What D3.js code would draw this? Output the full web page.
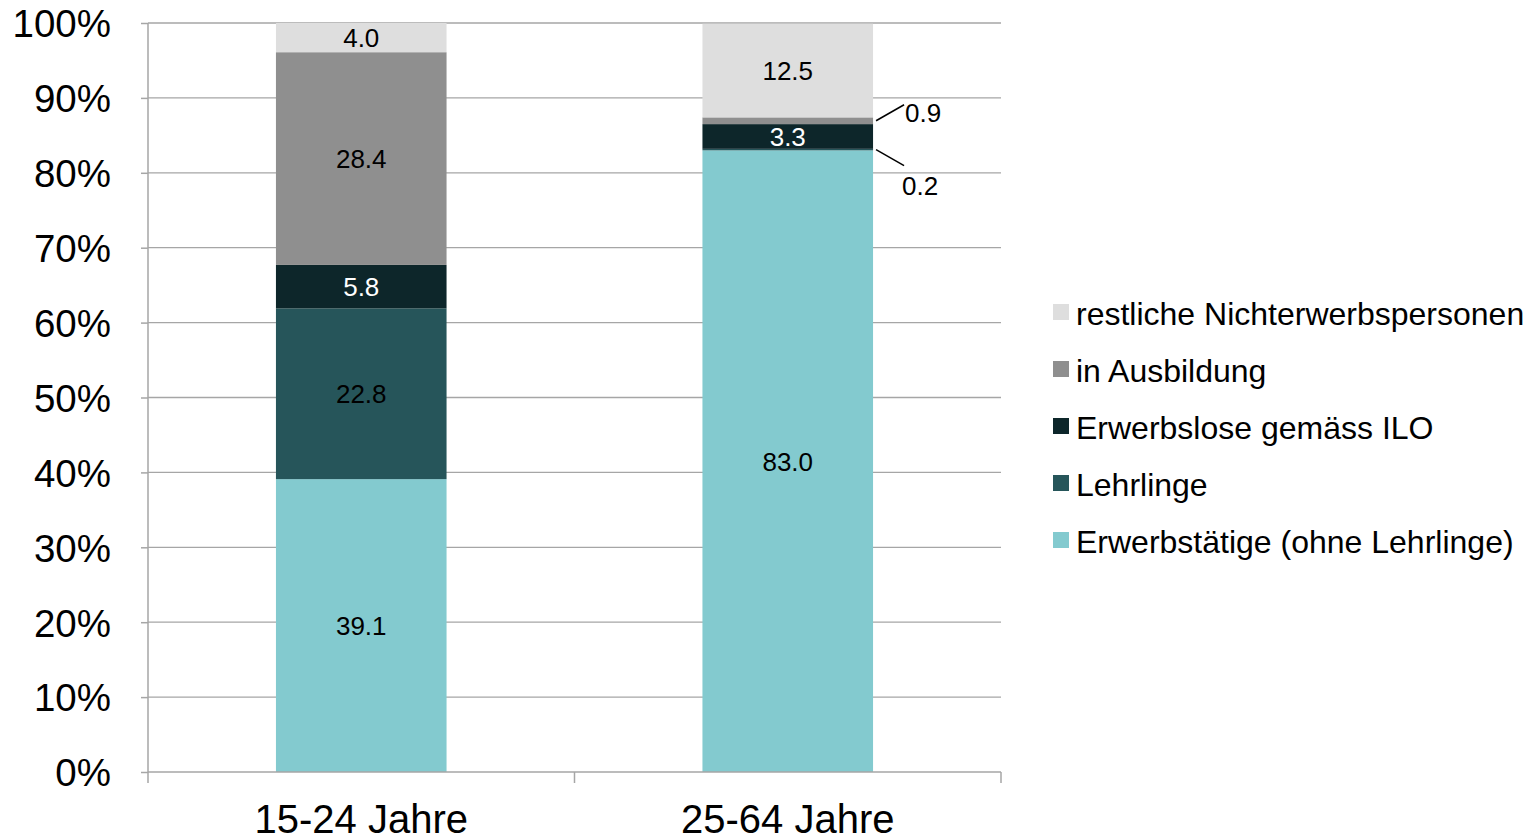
<!DOCTYPE html>
<html>
<head>
<meta charset="utf-8">
<script src="https://cdn.jsdelivr.net/npm/d3@7"></script>
<style>
  body { margin: 0; background: #fff; }
  text { font-family: "Liberation Sans", Arial, sans-serif; }
</style>
</head>
<body>
<svg width="1537" height="840"></svg>
<script>
// Kategorien und Serien (Anteile in %)
var categories = ["15-24 Jahre", "25-64 Jahre"];
var seriesNames = ["Erwerbstätige (ohne Lehrlinge)", "Lehrlinge", "Erwerbslose gemäss ILO", "in Ausbildung", "restliche Nichterwerbspersonen"];
var erwerbstaetige = [39.1, 83.0];
var lehrlinge = [22.8, 0.2];
var erwerbslose = [5.8, 3.3];
var inAusbildung = [28.4, 0.9];
var restliche = [4.0, 12.5];
var yTicks = [0, 10, 20, 30, 40, 50, 60, 70, 80, 90, 100];

var colors = ["#83CACF", "#26555A", "#0D262A", "#8F8F8F", "#DEDEDE"];
var labelColors = ["#000", "#000", "#fff", "#000", "#000"];

var svg = d3.select("svg"),
    margin = { top: 23, left: 148, right: 536, bottom: 68 },
    width = 1537 - margin.left - margin.right,
    height = 840 - margin.top - margin.bottom,
    g = svg.append("g").attr("transform", "translate(" + margin.left + "," + margin.top + ")");

// Tabelle für d3.stack
var keys = ["e", "l", "ilo", "a", "r"];
var data = categories.map(function (c, i) {
    return { cat: c, e: erwerbstaetige[i], l: lehrlinge[i], ilo: erwerbslose[i], a: inAusbildung[i], r: restliche[i] };
});

var x = d3.scaleBand().domain(categories).range([0, width]).padding(0);
var y = d3.scaleLinear().domain([0, 100]).range([height, 0]);
var barW = x.bandwidth() * 0.4;

// Gitterlinien
g.append("g")
    .selectAll("line")
    .data(yTicks.slice(1))
    .enter().append("line")
    .attr("x1", 0).attr("x2", width)
    .attr("y1", function (d) { return y(d); })
    .attr("y2", function (d) { return y(d); })
    .attr("stroke", "#a6a6a6").attr("stroke-width", 1.3);

var stacked = d3.stack().keys(keys)(data);

var layers = g.append("g")
    .selectAll("g")
    .data(stacked)
    .enter().append("g")
    .attr("fill", function (d, i) { return colors[i]; });

layers.selectAll("rect")
    .data(function (d) { return d; })
    .enter().append("rect")
    .attr("x", function (d) { return x(d.data.cat) + (x.bandwidth() - barW) / 2; })
    .attr("y", function (d) { return y(Math.min(d[1], 100)); })
    .attr("height", function (d) { return y(d[0]) - y(Math.min(d[1], 100)); })
    .attr("width", barW);

// Beschriftungen in den Balken (nur grosse Segmente)
stacked.forEach(function (layer, li) {
    layer.forEach(function (d) {
        var v = d[1] - d[0];
        var cx = x(d.data.cat) + x.bandwidth() / 2;
        var mid = y((d[0] + Math.min(d[1], 100)) / 2);
        if (v >= 2) {
            g.append("text")
                .attr("x", cx).attr("y", mid)
                .attr("dy", "0.36em")
                .attr("text-anchor", "middle")
                .attr("font-size", 26)
                .attr("fill", labelColors[li])
                .text(v.toFixed(1));
        } else {
            // kleine Segmente: Beschriftung mit Linie rechts vom Balken
            var right = x(d.data.cat) + (x.bandwidth() + barW) / 2;
            var up = li === 3;
            var ly = up ? mid - 16 : mid + 16;
            g.append("line")
                .attr("x1", right + 3).attr("y1", mid)
                .attr("x2", right + 31).attr("y2", ly)
                .attr("stroke", "#000").attr("stroke-width", 1.5);
            g.append("text")
                .attr("x", right + (up ? 32 : 29))
                .attr("y", up ? ly + 8 : ly + 20)
                .attr("dy", "0.36em")
                .attr("font-size", 26)
                .attr("fill", "#000")
                .text(v.toFixed(1));
        }
    });
});

// Achsen
var yAxis = g.append("g")
    .call(d3.axisLeft(y).tickValues(yTicks).tickSize(7).tickPadding(30).tickFormat(function (d) { return d + "%"; }));
yAxis.selectAll("line, path").attr("stroke", "#a6a6a6").attr("stroke-width", 1.5);
yAxis.select(".domain").attr("d", "M0," + height + "V0");
yAxis.selectAll("text").attr("font-size", 38.5).attr("fill", "#000").attr("font-family", "Liberation Sans, Arial, sans-serif").attr("dy", "0.36em");

var xAxis = g.append("g")
    .attr("transform", "translate(0," + height + ")")
    .call(d3.axisBottom(x).tickSize(0).tickPadding(37));
xAxis.select(".domain").attr("stroke", "#a6a6a6").attr("stroke-width", 1.5).attr("d", "M0,0H" + width);
xAxis.selectAll("text").attr("font-size", 40).attr("fill", "#000").attr("font-family", "Liberation Sans, Arial, sans-serif").attr("dy", "0.6em");
// Trennstriche zwischen Kategorien
xAxis.append("g").selectAll("line")
    .data([0, x.bandwidth(), width])
    .enter().append("line")
    .attr("x1", function (d) { return d; }).attr("x2", function (d) { return d; })
    .attr("y1", 0).attr("y2", 11)
    .attr("stroke", "#a6a6a6").attr("stroke-width", 1.5);

// Legende
var legend = svg.append("g")
    .attr("transform", "translate(1053,313)")
    .selectAll("g")
    .data(seriesNames.slice().reverse())
    .enter().append("g")
    .attr("transform", function (d, i) { return "translate(0," + i * 57 + ")"; });

legend.append("rect")
    .attr("x", 0).attr("y", -9)
    .attr("width", 16).attr("height", 16)
    .attr("fill", function (d, i) { return colors[colors.length - 1 - i]; });

legend.append("text")
    .attr("x", 23).attr("y", 0)
    .attr("dy", "0.36em")
    .attr("font-size", 32)
    .attr("fill", "#000")
    .text(function (d) { return d; });
</script>
</body>
</html>
